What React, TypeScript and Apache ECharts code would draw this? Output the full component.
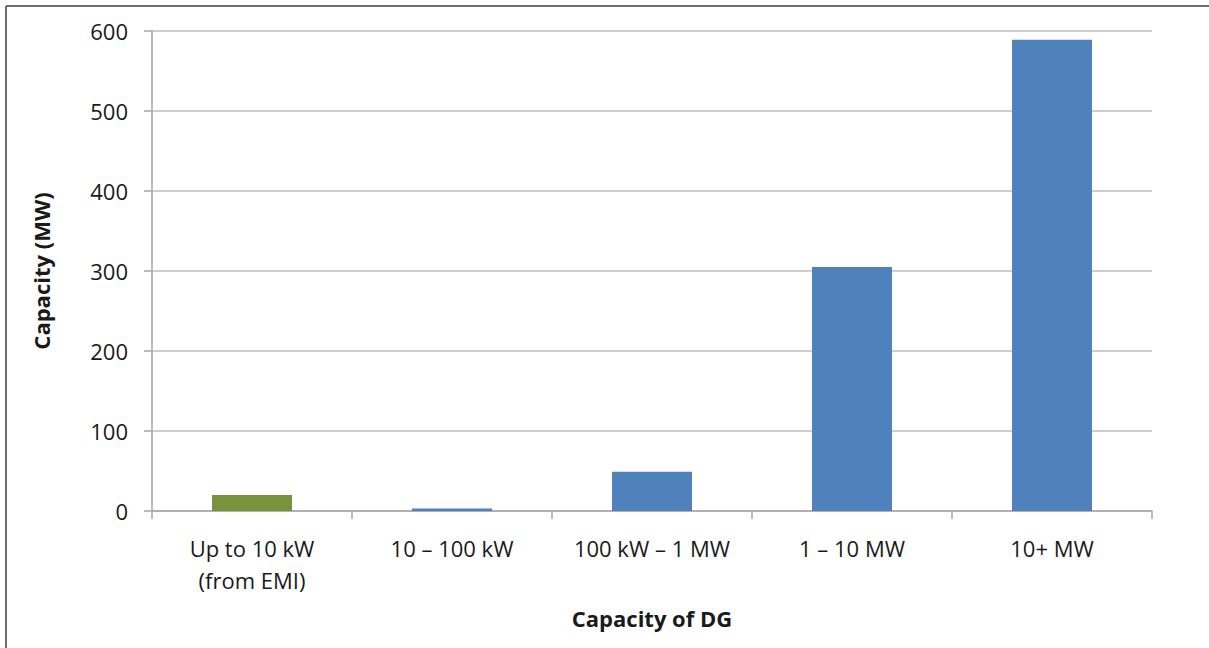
import React, { useEffect, useRef } from "react";
import * as echarts from "echarts";

const categories = ["Up to 10 kW\n(from EMI)", "10 – 100 kW", "100 kW – 1 MW", "1 – 10 MW", "10+ MW"];
const capacityMW = [20, 3, 49, 305, 589];
const barColors = ["#77933c", "#4f81bd", "#4f81bd", "#4f81bd", "#4f81bd"];
const yTicks = [0, 100, 200, 300, 400, 500, 600];

const FONT = "'Open Sans', sans-serif";

export default function App() {
  const ref = useRef<HTMLDivElement>(null);
  useEffect(() => {
    if (!ref.current) return;
    const chart = echarts.init(ref.current, null, { renderer: "svg" });
    chart.setOption({
      animation: false,
      backgroundColor: "#ffffff",
      textStyle: { fontFamily: FONT },
      grid: { left: 152, right: 57, top: 31, bottom: 137, containLabel: false },
      xAxis: {
        type: "category",
        data: categories,
        name: "Capacity of DG",
        nameLocation: "middle",
        nameGap: 96,
        nameTextStyle: { fontFamily: FONT, fontSize: 22, fontWeight: "bold", color: "#1a1a1a" },
        axisLine: { lineStyle: { color: "#a6a6a6", width: 1.5 } },
        axisTick: { show: true, length: 8, alignWithLabel: false, lineStyle: { color: "#a6a6a6", width: 1.5 } },
        axisLabel: { interval: 0, hideOverlap: false, fontFamily: FONT, fontSize: 22, color: "#1a1a1a", margin: 21, lineHeight: 32 },
        splitLine: { show: false },
      },
      yAxis: {
        type: "value",
        min: yTicks[0],
        max: yTicks[yTicks.length - 1],
        interval: 100,
        name: "Capacity (MW)",
        nameLocation: "middle",
        nameGap: 100,
        nameRotate: 90,
        nameTextStyle: { fontFamily: FONT, fontSize: 22, fontWeight: "bold", color: "#1a1a1a" },
        axisLine: { show: true, lineStyle: { color: "#a6a6a6", width: 1.5 } },
        axisTick: { show: true, length: 8, lineStyle: { color: "#a6a6a6", width: 1.5 } },
        axisLabel: { fontFamily: FONT, fontSize: 22, color: "#1a1a1a", margin: 24 },
        splitLine: { show: true, lineStyle: { color: "#bfbfbf", width: 1.5 } },
      },
      series: [
        {
          type: "bar",
          barWidth: "40%",
          data: capacityMW.map((v, i) => ({ value: v, itemStyle: { color: barColors[i] } })),
        },
      ],
      graphic: [
        { type: "line", shape: { x1: 6, y1: 6, x2: 1209, y2: 6 }, style: { stroke: "#6e6e6e", lineWidth: 2 } },
        { type: "line", shape: { x1: 6, y1: 6, x2: 6, y2: 648 }, style: { stroke: "#6e6e6e", lineWidth: 2 } },
      ],
    });
    return () => chart.dispose();
  }, []);
  return <div ref={ref} style={{ position: "fixed", left: 0, top: 0, width: 1209, height: 648 }} />;
}
